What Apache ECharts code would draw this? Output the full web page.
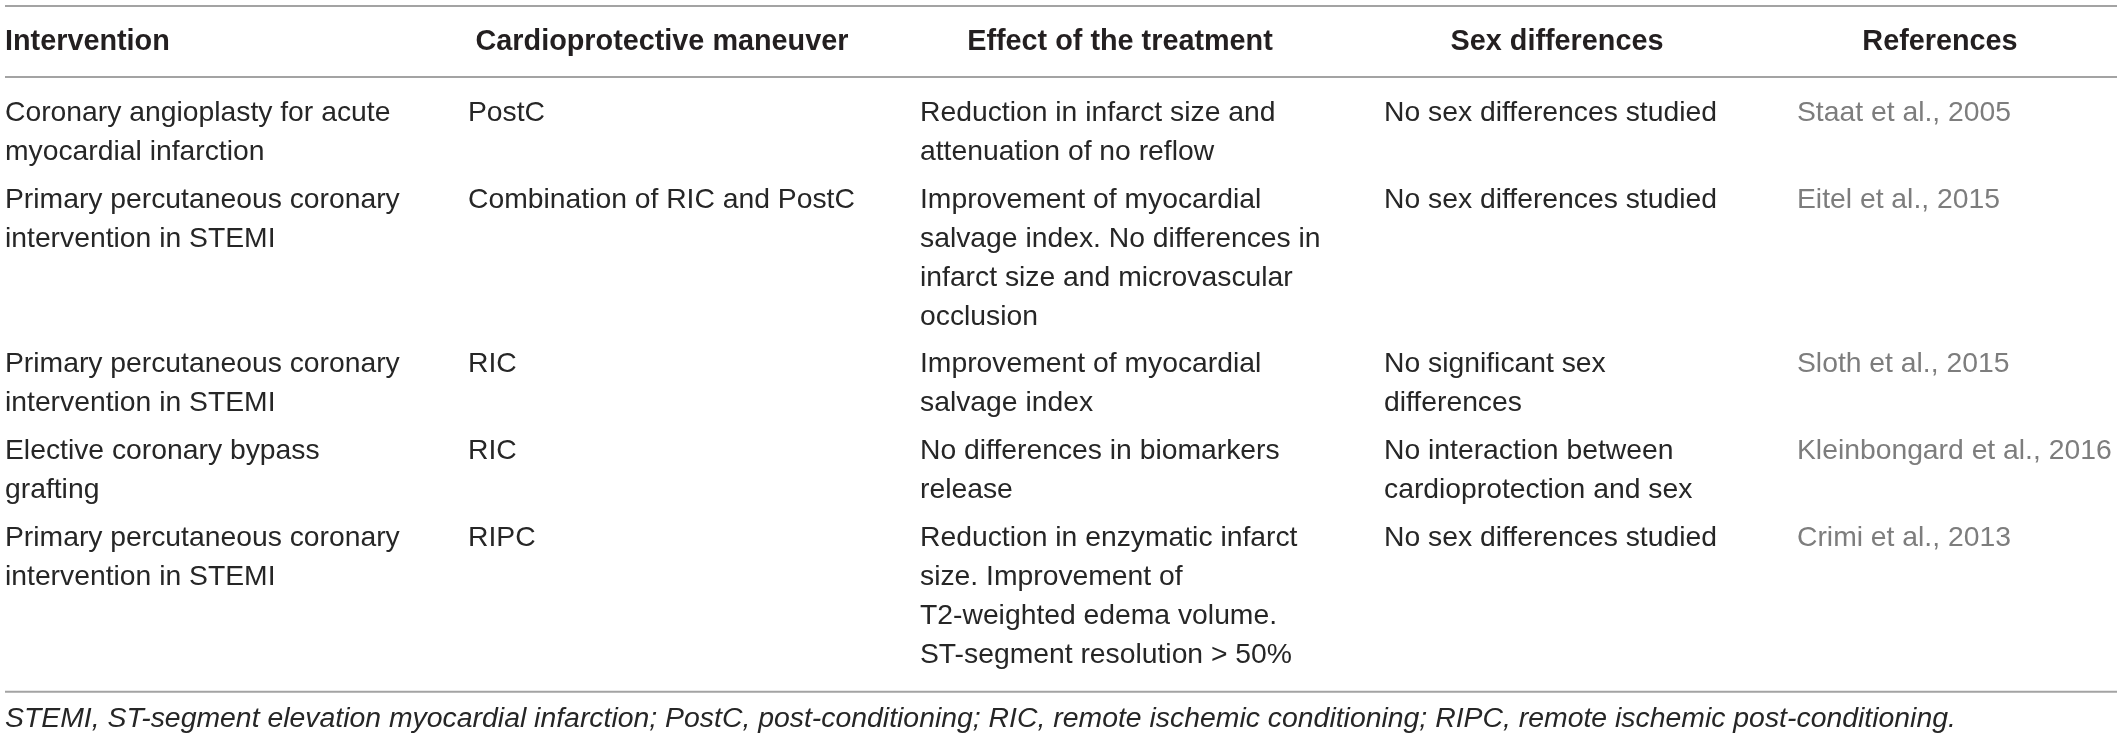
<!DOCTYPE html>
<html><head><meta charset="utf-8">
<script src="https://cdn.jsdelivr.net/npm/echarts@6/dist/echarts.min.js"></script>
<style>html,body{margin:0;padding:0;background:#fff}#c{width:2117px;height:741px}</style>
</head><body><div id="c"></div>
<script>
// ---- data ----
const headers = ['Intervention', 'Cardioprotective maneuver', 'Effect of the treatment', 'Sex differences', 'References'];
const interventions = [
  'Coronary angioplasty for acute\nmyocardial infarction',
  'Primary percutaneous coronary\nintervention in STEMI',
  'Primary percutaneous coronary\nintervention in STEMI',
  'Elective coronary bypass\ngrafting',
  'Primary percutaneous coronary\nintervention in STEMI'
];
const maneuvers = ['PostC', 'Combination of RIC and PostC', 'RIC', 'RIC', 'RIPC'];
const effects = [
  'Reduction in infarct size and\nattenuation of no reflow',
  'Improvement of myocardial\nsalvage index. No differences in\ninfarct size and microvascular\nocclusion',
  'Improvement of myocardial\nsalvage index',
  'No differences in biomarkers\nrelease',
  'Reduction in enzymatic infarct\nsize. Improvement of\nT2-weighted edema volume.\nST-segment resolution > 50%'
];
const sexDifferences = [
  'No sex differences studied',
  'No sex differences studied',
  'No significant sex\ndifferences',
  'No interaction between\ncardioprotection and sex',
  'No sex differences studied'
];
const references = ['Staat et al., 2005', 'Eitel et al., 2015', 'Sloth et al., 2015', 'Kleinbongard et al., 2016', 'Crimi et al., 2013'];
const footnote = 'STEMI, ST-segment elevation myocardial infarction; PostC, post-conditioning; RIC, remote ischemic conditioning; RIPC, remote ischemic post-conditioning.';

const columns = [interventions, maneuvers, effects, sexDifferences, references];

// ---- layout / style ----
const W = 2117, H = 741;
const FONT = '"Liberation Sans", Arial, Helvetica, sans-serif';
const FS = 28.3;
const TEXT = '#262626';
const HEAD = '#231f20';
const REFCOL = '#7d7d7d';
const RULE = '#a3a3a3';
const colLeft = [5, 468, 920, 1384, 1797];
const headCenter = [5, 662, 1120, 1557, 1940];
const headY = 42;
const firstLineY = 113;
const pitch = 39;
const rowGap = 8.7;
const topRuleY = 6, headRuleY = 77;
const footY = 719;

const nRows = interventions.length;
const rowLines = [];
for (let r = 0; r < nRows; r++) {
  let m = 1;
  columns.forEach(col => { m = Math.max(m, col[r].split('\n').length); });
  rowLines.push(m);
}
const rowCenter = [];
let yy = firstLineY;
for (let r = 0; r < nRows; r++) {
  rowCenter.push(yy);
  yy += rowLines[r] * pitch + rowGap;
}
const bottomRuleY = rowCenter[nRows - 1] + (rowLines[nRows - 1] - 1) * pitch + 37;

const cellData = [];
for (let r = 0; r < nRows; r++) for (let c = 0; c < columns.length; c++) cellData.push([c, r]);

const chart = echarts.init(document.getElementById('c'), null, {renderer: 'canvas'});
chart.setOption({
  animation: false,
  backgroundColor: '#ffffff',
  grid: {left: 0, right: 0, top: 0, bottom: 0},
  xAxis: {type: 'value', min: 0, max: W, show: false},
  yAxis: {type: 'value', min: 0, max: H, inverse: true, show: false},
  series: [
    {
      type: 'custom', name: 'rules', clip: false,
      data: [topRuleY, headRuleY, bottomRuleY].map(v => [v]),
      renderItem: (params, api) => {
        const y = api.value(0);
        const p1 = api.coord([5, y]), p2 = api.coord([W, y]);
        return {type: 'line', shape: {x1: p1[0], y1: p1[1], x2: p2[0], y2: p2[1]},
                style: {stroke: RULE, lineWidth: 2}};
      }
    },
    {
      type: 'custom', name: 'headers', clip: false,
      data: headers.map((h, i) => [i]),
      renderItem: (params, api) => {
        const i = api.value(0);
        const p = api.coord([headCenter[i], headY]);
        return {type: 'text', x: p[0], y: p[1],
          style: {text: headers[i], fill: HEAD, fontSize: 28.8, fontWeight: 'bold', fontFamily: FONT,
                  align: i === 0 ? 'left' : 'center', textAlign: i === 0 ? 'left' : 'center',
                  verticalAlign: 'middle', textVerticalAlign: 'middle'}};
      }
    },
    {
      type: 'custom', name: 'cells', clip: false,
      data: cellData,
      renderItem: (params, api) => {
        const c = api.value(0), r = api.value(1);
        const p = api.coord([colLeft[c], rowCenter[r] - pitch / 2]);
        return {type: 'text', x: p[0], y: p[1],
          style: {text: columns[c][r], fill: c === 4 ? REFCOL : TEXT, fontSize: FS, fontFamily: FONT,
                  lineHeight: pitch, align: 'left', textAlign: 'left',
                  verticalAlign: 'top', textVerticalAlign: 'top'}};
      }
    },
    {
      type: 'custom', name: 'footnote', clip: false,
      data: [[0]],
      renderItem: (params, api) => {
        const p = api.coord([5, footY]);
        return {type: 'text', x: p[0], y: p[1],
          style: {text: footnote, fill: TEXT, fontSize: 28.4, fontStyle: 'italic', fontFamily: FONT,
                  align: 'left', textAlign: 'left', verticalAlign: 'middle', textVerticalAlign: 'middle'}};
      }
    }
  ]
});
</script></body></html>
